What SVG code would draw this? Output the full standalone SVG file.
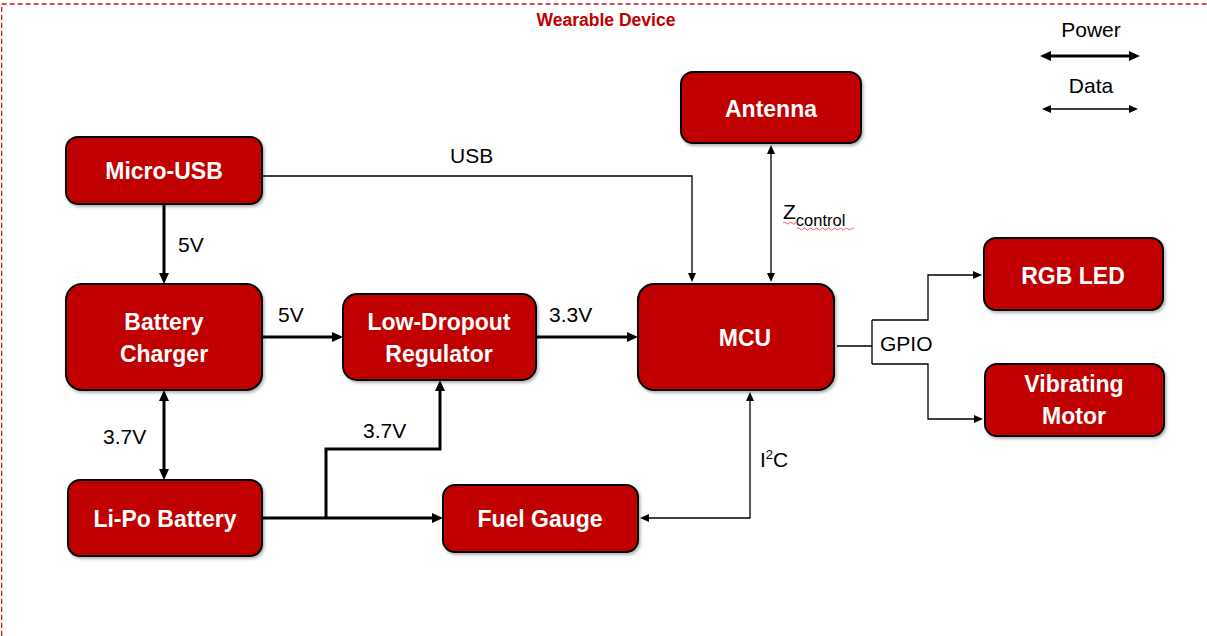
<svg xmlns="http://www.w3.org/2000/svg" width="1207" height="636" viewBox="0 0 1207 636">
<style>
.node rect{fill:#C00000;stroke:#000;stroke-width:2;filter:url(#sh)}
.node text{fill:#fff;font-family:"Liberation Sans",Arial,sans-serif;font-weight:bold;font-size:23px;text-anchor:middle}
.pw{fill:none;stroke:#000;stroke-width:3}
.dt{fill:none;stroke:#000;stroke-width:1.3}
.lbl{fill:#000;font-family:"Liberation Sans",Arial,sans-serif;font-size:21px}
.title{fill:#C00000;font-family:"Liberation Sans",Arial,sans-serif;font-weight:bold;font-size:17.5px;text-anchor:middle}
</style>
<defs>
<filter id="sh" x="-10%" y="-10%" width="125%" height="130%">
<feDropShadow dx="1.5" dy="2" stdDeviation="1.5" flood-color="#000" flood-opacity="0.3"/>
</filter>
<marker id="ap" markerUnits="userSpaceOnUse" markerWidth="12" markerHeight="12" viewBox="0 0 12 12" refX="7" refY="6" orient="auto-start-reverse">
<path d="M0,1 L11,6 L0,11 z" fill="#000"/>
</marker>
<marker id="ad" markerUnits="userSpaceOnUse" markerWidth="10" markerHeight="10" viewBox="0 0 10 10" refX="7" refY="5" orient="auto-start-reverse">
<path d="M0,1 L9,5 L0,9 z" fill="#000"/>
</marker>
</defs>
<rect width="1207" height="636" fill="#fff"/>
<path d="M1.7,636 V4 H1207" fill="none" stroke="#D01818" stroke-width="1.3" stroke-dasharray="5,3"/>
<text class="title" x="606" y="26">Wearable Device</text>

<g id="connectors">
<path class="pw" d="M164,204 V280" marker-end="url(#ap)"/>
<path class="dt" d="M262,176 H692 V280" marker-end="url(#ad)"/>
<path class="dt" d="M771,147 V280" marker-start="url(#ad)" marker-end="url(#ad)"/>
<path class="pw" d="M262,337 H339" marker-end="url(#ap)"/>
<path class="pw" d="M536,337 H634" marker-end="url(#ap)"/>
<path class="pw" d="M164,394 V476" marker-start="url(#ap)" marker-end="url(#ap)"/>
<path class="pw" d="M262,518 H439" marker-end="url(#ap)"/>
<path class="pw" d="M326,518 V449 H440 V384" marker-end="url(#ap)"/>
<path class="dt" d="M750,394 V518 H642" marker-start="url(#ad)" marker-end="url(#ad)"/>
<path class="dt" d="M837,346 H872 M872,320 V364"/>
<path class="dt" d="M872,320 H928 V275 H980" marker-end="url(#ad)"/>
<path class="dt" d="M872,364 H928 V419 H981" marker-end="url(#ad)"/>
<path class="pw" d="M1044,56 H1136" marker-start="url(#ap)" marker-end="url(#ap)"/>
<path class="dt" d="M1044,109 H1136" marker-start="url(#ad)" marker-end="url(#ad)"/>
</g>

<g id="labels">
<text class="lbl" x="1091" y="37" text-anchor="middle">Power</text>
<text class="lbl" x="1091" y="93" text-anchor="middle">Data</text>
<text class="lbl" x="450" y="163">USB</text>
<text class="lbl" x="178" y="252">5V</text>
<text class="lbl" x="278" y="322">5V</text>
<text class="lbl" x="549" y="322">3.3V</text>
<text class="lbl" x="103" y="444">3.7V</text>
<text class="lbl" x="363" y="438">3.7V</text>
<text class="lbl" x="760" y="467">I<tspan font-size="13" dy="-8">2</tspan><tspan dy="8">C</tspan></text>
<text class="lbl" x="880" y="351">GPIO</text>
<text class="lbl" x="783" y="219">Z<tspan font-size="16.5" dy="7">control</tspan></text>
<path d="M783,223 q1.5,-2 3,0 t3,0 t3,0 t3,0 t3,0 M797,229 q1.5,-2 3,0 t3,0 t3,0 t3,0 t3,0 t3,0 t3,0 t3,0 t3,0 t3,0 t3,0 t3,0 t3,0 t3,0 t3,0 t3,0 t3,0 t3,0 t3,0" fill="none" stroke="#E85050" stroke-width="0.9"/>
</g>

<g id="micro-usb" class="node"><rect x="66" y="137" width="196" height="67" rx="12"/><text x="164" y="179">Micro-USB</text></g>
<g id="battery-charger" class="node"><rect x="66" y="284" width="196" height="106" rx="16"/><text x="164" y="330">Battery</text><text x="164" y="362">Charger</text></g>
<g id="lipo-battery" class="node"><rect x="68" y="480" width="194" height="76" rx="12"/><text x="165" y="527">Li-Po Battery</text></g>
<g id="ldo" class="node"><rect x="343" y="294" width="193" height="86" rx="14"/><text x="439" y="330">Low-Dropout</text><text x="439" y="362">Regulator</text></g>
<g id="fuel-gauge" class="node"><rect x="443" y="485" width="195" height="67" rx="12"/><text x="540" y="527">Fuel Gauge</text></g>
<g id="mcu" class="node"><rect x="638" y="284" width="196" height="106" rx="16"/><text x="745" y="346">MCU</text></g>
<g id="antenna" class="node"><rect x="681" y="72" width="180" height="71" rx="12"/><text x="771" y="117">Antenna</text></g>
<g id="rgb-led" class="node"><rect x="984" y="238" width="179" height="72" rx="12"/><text x="1073" y="284">RGB LED</text></g>
<g id="vibrating-motor" class="node"><rect x="985" y="364" width="179" height="72" rx="12"/><text x="1074" y="392">Vibrating</text><text x="1074" y="424">Motor</text></g>
</svg>
